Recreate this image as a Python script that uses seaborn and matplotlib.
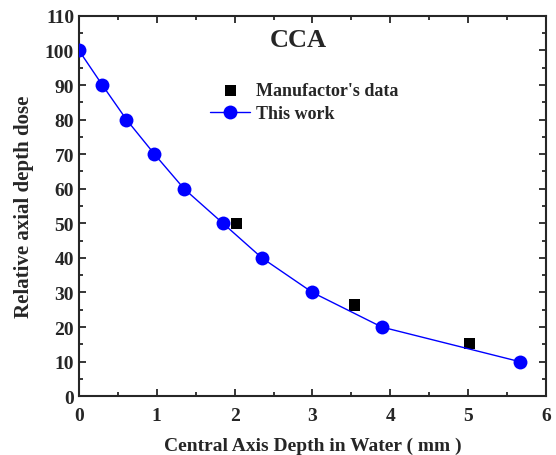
import numpy as np
import pandas as pd
import seaborn as sns
import matplotlib.pyplot as plt
from matplotlib.ticker import MultipleLocator

# measured points
depth_work = [0.0, 0.30, 0.61, 0.97, 1.35, 1.85, 2.35, 3.0, 3.89, 5.66]
dose_work = [100, 90, 80, 70, 60, 50, 40, 30, 20, 10]
depth_manuf = [2.02, 3.54, 5.02]
dose_manuf = [50, 26.4, 15.3]

df_work = pd.DataFrame({"depth": depth_work, "dose": dose_work})
df_manuf = pd.DataFrame({"depth": depth_manuf, "dose": dose_manuf})

sns.set_style("ticks")
plt.rcParams['font.family'] = ['Liberation Serif', 'DejaVu Serif']
plt.rcParams['font.weight'] = 'bold'

fig = plt.figure(figsize=(5.56, 4.56), dpi=100)
ax = fig.add_axes([0.142, 0.129, 0.840, 0.834])

sns.scatterplot(x="depth", y="dose", data=df_manuf, ax=ax, marker="s", color="black",
                s=65, edgecolor="none", label="Manufactor's data", zorder=3)
sns.lineplot(x="depth", y="dose", data=df_work, ax=ax, color="blue", lw=1,
             marker="o", markersize=10, markeredgewidth=0, label="This work", zorder=4)

ax.set_xlim(0, 6)
ax.set_ylim(0, 110)
ax.xaxis.set_major_locator(MultipleLocator(1))
ax.xaxis.set_minor_locator(MultipleLocator(0.5))
ax.yaxis.set_major_locator(MultipleLocator(10))
ax.yaxis.set_minor_locator(MultipleLocator(5))
ax.tick_params(which='both', direction='in', top=True, right=True, width=1.3)
ax.tick_params(which='major', length=5, labelsize=14)
ax.tick_params(axis='x', which='major', pad=8)
ax.tick_params(which='minor', length=3)
for s in ax.spines.values():
    s.set_linewidth(1.5)

ax.set_xlabel('Central Axis Depth in Water ( mm )', fontsize=14, fontweight='bold', labelpad=9)
ax.set_ylabel('Relative axial depth dose', fontsize=15, fontweight='bold', labelpad=8)
ax.text(0.47, 0.937, 'CCA', transform=ax.transAxes, ha='center', va='center',
        fontsize=19, fontweight='bold')

ax.legend(loc='upper left', bbox_to_anchor=(0.262, 0.85), frameon=False,
          prop={'size': 13, 'weight': 'bold'}, handlelength=2.2, borderpad=0,
          labelspacing=0.35, handletextpad=0.35)

plt.savefig('out.png', dpi=100)
